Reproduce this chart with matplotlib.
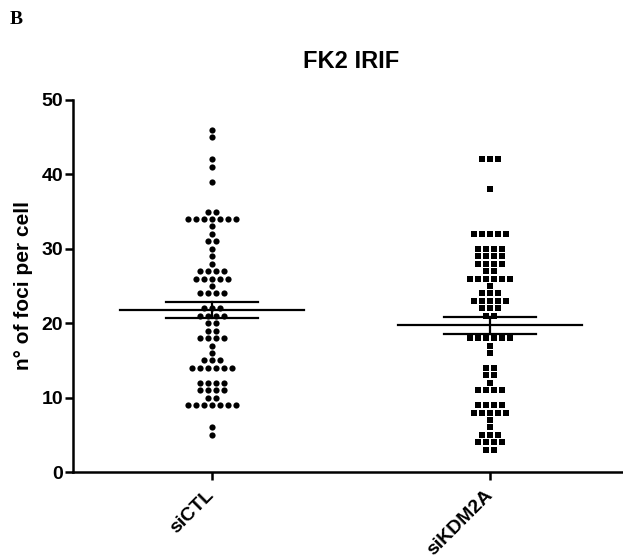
import numpy as np
import matplotlib
matplotlib.use("Agg")
import matplotlib.pyplot as plt

plt.rcParams['font.family'] = ['Liberation Sans', 'DejaVu Sans']

# Data (foci per cell, one value per cell)
groups = ['siCTL', 'siKDM2A']

ctl_values = ([46, 45, 42, 41, 39] + [35] * 2 + [34] * 7 + [33, 32] + [31] * 2 +
              [30, 29, 28] + [27] * 4 + [26] * 5 + [25] + [24] * 4 + [22] * 3 +
              [21] * 4 + [20] * 2 + [19] * 2 + [18] * 4 + [17, 16] + [15] * 3 +
              [14] * 6 + [12] * 4 + [11] * 4 + [10] * 2 + [9] * 7 + [6, 5])

kdm_values = ([42] * 3 + [38] + [32] * 5 + [30] * 4 + [29] * 4 + [28] * 4 +
              [27] * 2 + [26] * 6 + [25] + [24] * 3 + [23] * 5 + [22] * 3 +
              [21] * 2 + [18] * 6 + [17, 16] + [14] * 2 + [13] * 2 + [12] +
              [11] * 4 + [9] * 4 + [8] * 5 + [7, 6] + [5] * 3 + [4] * 4 + [3] * 2)

all_values = [ctl_values, kdm_values]
markers = ['o', 's']
marker_sizes = [20, 14]


def spread(vals, center, step=0.0288):
    # put equal values side by side, centred on the group position
    vals = np.array(vals)
    xs = np.zeros(len(vals))
    for v in np.unique(vals):
        idx = np.where(vals == v)[0]
        n = len(idx)
        xs[idx] = center + (np.arange(n) - (n - 1) / 2) * step
    return xs, vals


fig = plt.figure(figsize=(6.23, 5.58), dpi=100)
ax = fig.add_axes([0.1167, 0.154, 0.8934, 0.667])

for i, vals in enumerate(all_values):
    xs, ys = spread(vals, i)
    ax.scatter(xs, ys, marker=markers[i], s=marker_sizes[i], color='black',
               linewidths=0, zorder=3)

    # mean with SEM
    arr = np.array(vals, dtype=float)
    mean = arr.mean()
    sem = arr.std(ddof=1) / np.sqrt(len(arr))
    ax.plot([i - 0.33, i + 0.33], [mean, mean], color='black', lw=1.6, zorder=4)
    ax.plot([i - 0.165, i + 0.165], [mean + sem, mean + sem], color='black', lw=1.6, zorder=4)
    ax.plot([i - 0.165, i + 0.165], [mean - sem, mean - sem], color='black', lw=1.6, zorder=4)
    ax.plot([i, i], [mean - sem, mean + sem], color='black', lw=1.6, zorder=4)

ax.set_xlim(-0.5, 1.5)
ax.set_ylim(0, 50)
ax.set_yticks([0, 10, 20, 30, 40, 50])
ax.set_xticks([0, 1])
ax.set_xticklabels(groups, rotation=45, ha='right', va='center', rotation_mode='anchor',
                   fontsize=14, fontweight='bold')
for lab in ax.get_yticklabels():
    lab.set_fontsize(14)
    lab.set_fontweight('bold')

ax.spines['top'].set_visible(False)
ax.spines['right'].set_visible(False)
ax.spines['left'].set_linewidth(1.8)
ax.spines['bottom'].set_linewidth(1.8)
ax.spines['bottom'].set_clip_on(False)
ax.tick_params(axis='y', direction='out', length=6, width=1.8, pad=1)
ax.tick_params(axis='x', direction='out', length=5.5, width=1.8, pad=9)

ax.set_ylabel('n° of foci per cell', fontsize=15, fontweight='bold', labelpad=6)
fig.text(0.5632, 1 - 62 / 558, 'FK2 IRIF', ha='center', va='center',
         fontsize=17, fontweight='bold')
fig.text(10 / 623, 1 - 19 / 558, 'B', ha='left', va='center', fontsize=14,
         fontweight='bold', family='Liberation Serif')

fig.savefig('out.png', dpi=100)
